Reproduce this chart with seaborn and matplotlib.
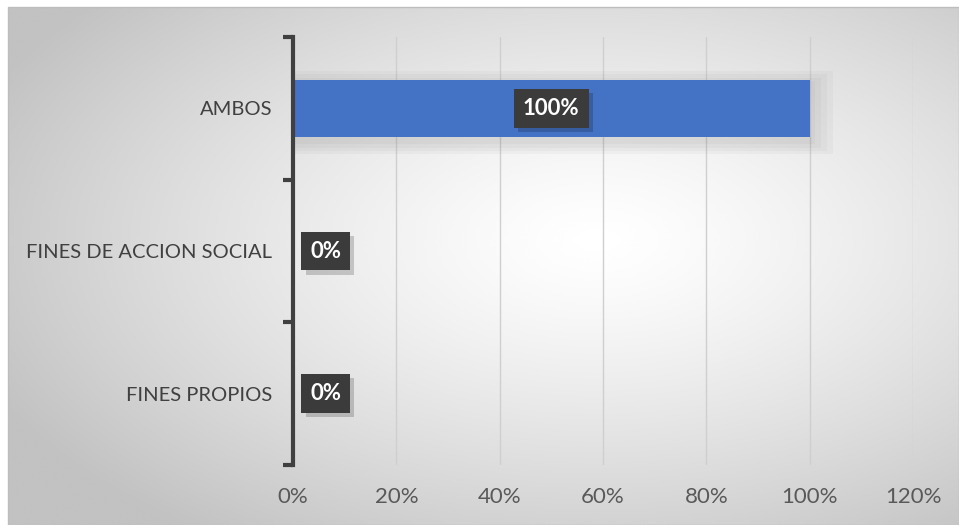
import numpy as np
import pandas as pd
import matplotlib
matplotlib.use("Agg")
import matplotlib.pyplot as plt
import matplotlib.patheffects as pe
import seaborn as sns
from matplotlib.ticker import FixedLocator, PercentFormatter

categories = ["AMBOS", "FINES DE ACCION SOCIAL", "FINES PROPIOS"]
values = [1.00, 0.00, 0.00]
value_labels = ["100%", "0%", "0%"]
x_ticks = [0.0, 0.2, 0.4, 0.6, 0.8, 1.0, 1.2]

df = pd.DataFrame({"categoria": categories, "valor": values})

sns.set_theme(style="white")
plt.rcParams["font.family"] = ["Lato", "DejaVu Sans"]

W, H = 959, 525
fig = plt.figure(figsize=(W / 100, H / 100), dpi=100)
fig.patch.set_facecolor("white")

# radial grey background of the chart area
bg = fig.add_axes([8 / W, 0, 1 - 8 / W, 1 - 7 / H], zorder=-10)
gx, gy = np.meshgrid(np.linspace(0, 1, 400), np.linspace(0, 1, 220))
cx, cy = 0.62, 0.45
r = np.sqrt(((gx - cx) / 0.75) ** 2 + ((gy - cy) / 0.75) ** 2)
shade = np.clip(1.0 - 0.26 * r ** 1.3, 0.76, 1.0)
bg.imshow(shade, cmap="gray", vmin=0, vmax=1, aspect="auto",
          extent=[0, 1, 0, 1], interpolation="bicubic")
bg.set_axis_off()
fig.add_artist(plt.Rectangle((8 / W, 0), 1 - 8 / W, 1 - 7 / H,
                             transform=fig.transFigure, fill=False,
                             ec="#bdbdbd", lw=1))

ax = fig.add_axes([293 / W, 1 - 465 / H, (913 - 293) / W, (465 - 37) / H])
ax.set_facecolor("none")

# soft shadow behind the bars
for k in range(4):
    pad = 0.045 + 0.045 * k
    ax.barh(np.arange(len(values)) + 0.03,
            [v + (pad * 0.25 if v > 0 else 0) for v in values],
            height=0.4 + pad, left=0, color="#6f6f6f", alpha=0.05,
            linewidth=0, zorder=1)

sns.barplot(data=df, x="valor", y="categoria", orient="h", color="#4472C4",
            saturation=1, width=0.4, ax=ax, zorder=3, linewidth=0)

ax.set_xlim(0, 1.2)
ax.set_ylim(2.5, -0.5)
ax.xaxis.set_major_locator(FixedLocator(x_ticks))
ax.xaxis.set_major_formatter(PercentFormatter(1.0, decimals=0))
ax.grid(axis="x", color="#cfcfcf", lw=1, zorder=0)
ax.set_axisbelow(True)
for s in ("top", "right", "bottom"):
    ax.spines[s].set_visible(False)
ax.spines["left"].set_color("#404040")
ax.spines["left"].set_linewidth(3)
ax.spines["left"].set_zorder(5)

ax.tick_params(axis="x", length=0, pad=16, labelsize=16, labelcolor="#595959")
ax.tick_params(axis="y", which="major", length=0, pad=15, labelsize=14.5,
               labelcolor="#404040")
ax.yaxis.set_minor_locator(FixedLocator([-0.5, 0.5, 1.5, 2.5]))
ax.tick_params(axis="y", which="minor", length=7, width=3, color="#404040",
               direction="out", left=True)
ax.set_xlabel("")
ax.set_ylabel("")

# value labels in dark boxes with a drop shadow
for i, (v, lab) in enumerate(zip(values, value_labels)):
    if v > 0:
        xpos, ha, off = v / 2, "center", 0
    else:
        xpos, ha, off = 0, "left", 12.5
    t = ax.annotate(lab, (xpos, i), xytext=(off, 0), textcoords="offset points",
                    ha=ha, va="center", fontsize=16, fontweight="bold",
                    color="white",
                    bbox=dict(boxstyle="square,pad=0.4", fc="#3b3b3b",
                              ec="none", lw=0), zorder=7)
    t.get_bbox_patch().set_path_effects([
        pe.SimplePatchShadow(offset=(3, -3), shadow_rgbFace="black", alpha=0.18),
        pe.Normal(),
    ])

fig.savefig("out.png", dpi=100)
